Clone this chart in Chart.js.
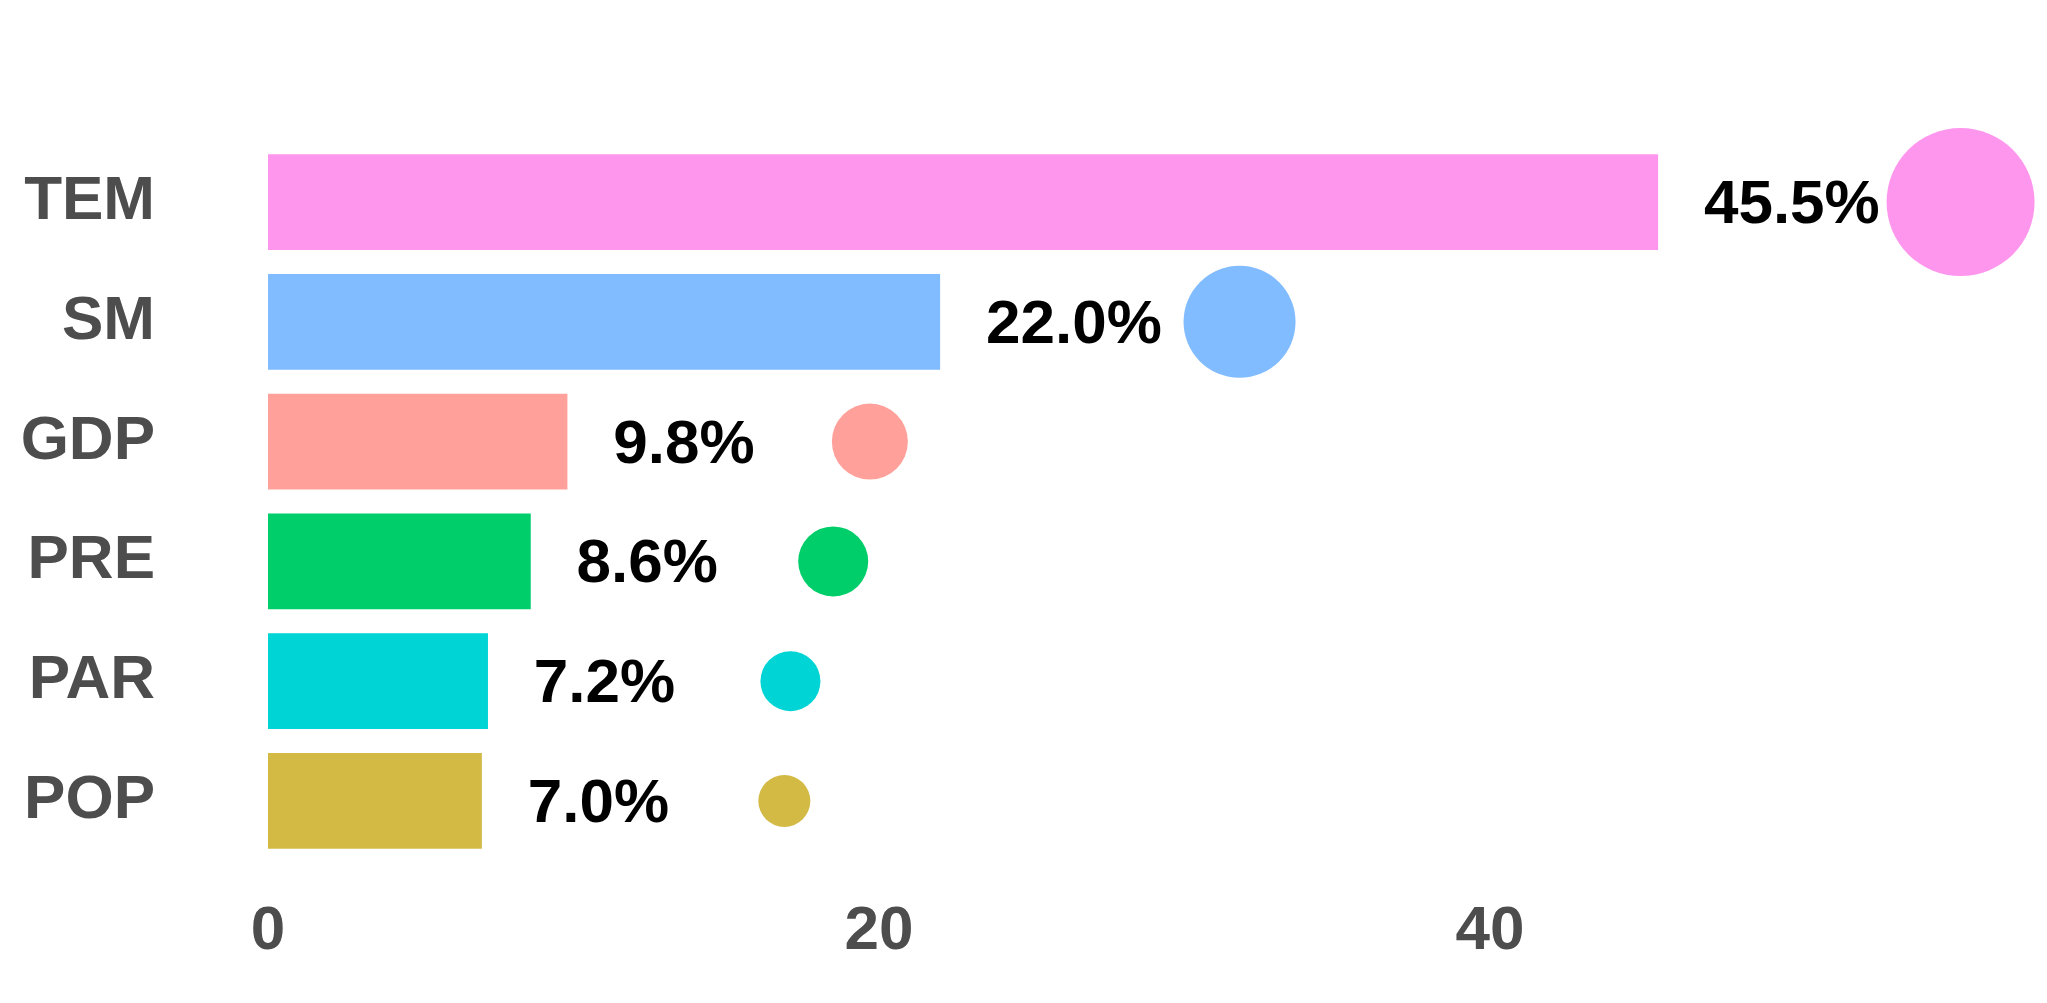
<!DOCTYPE html>
<html lang="en">
<head>
    <meta charset="UTF-8">
    <title>Share chart</title>
    <script src="https://cdn.jsdelivr.net/npm/chart.js"></script>
    <style>
        html, body { margin: 0; padding: 0; background: #fff; }
        #wrap { width: 2047px; height: 1003px; }
    </style>
</head>
<body>
    <div id="wrap"><canvas id="chart"></canvas></div>
    <script>
        const categories = ['TEM', 'SM', 'GDP', 'PRE', 'PAR', 'POP'];
        const values = [45.5, 22.0, 9.8, 8.6, 7.2, 7.0];
        const valueLabels = ['45.5%', '22.0%', '9.8%', '8.6%', '7.2%', '7.0%'];
        const circleX = [55.4, 31.8, 19.7, 18.5, 17.1, 16.9];
        const circleR = [74, 56, 38, 35, 30, 26];
        const colors = ['#FF96EE', '#80BCFF', '#FFA19A', '#00CE6A', '#00D4D5', '#D3BA44'];
        const xTicks = [0, 20, 40];

        const FONT = 'Liberation Sans, Arial, sans-serif';

        // percentage labels just right of each bar
        const valueLabelPlugin = {
            id: 'valueLabels',
            afterDatasetsDraw(chart) {
                const ctx = chart.ctx;
                const x = chart.scales.x, y = chart.scales.y;
                ctx.save();
                ctx.font = `bold 62px ${FONT}`;
                ctx.fillStyle = '#000';
                ctx.textAlign = 'left';
                ctx.textBaseline = 'middle';
                values.forEach((v, i) => {
                    ctx.fillText(valueLabels[i], x.getPixelForValue(v + 1.5), y.getPixelForValue(i) + 4);
                });
                ctx.restore();
            }
        };

        new Chart(document.getElementById('chart'), {
            type: 'bar',
            data: {
                labels: categories,
                datasets: [
                    {
                        type: 'bubble',
                        data: categories.map((c, i) => ({ x: circleX[i], y: c, r: circleR[i] })),
                        backgroundColor: colors,
                        borderWidth: 0,
                        order: 0
                    },
                    {
                        data: values,
                        backgroundColor: colors,
                        categoryPercentage: 1,
                        barPercentage: 0.8,
                        order: 1
                    }
                ]
            },
            options: {
                indexAxis: 'y',
                responsive: true,
                maintainAspectRatio: false,
                animation: false,
                layout: { autoPadding: false, padding: { top: 28, right: 7 } },
                plugins: { legend: { display: false }, tooltip: { enabled: false } },
                scales: {
                    x: {
                        type: 'linear',
                        min: 0,
                        max: 58,
                        grid: { display: false },
                        border: { display: false },
                        afterBuildTicks: s => { s.ticks = xTicks.map(v => ({ value: v })); },
                        afterFit: s => { s.height = 106; },
                        ticks: {
                            padding: 26,
                            color: '#4D4D4D',
                            font: { family: FONT, size: 62, weight: 'bold' }
                        }
                    },
                    y: {
                        type: 'category',
                        grid: { display: false },
                        border: { display: false },
                        afterFit: s => { s.width = 268; },
                        ticks: {
                            padding: 105,
                            color: '#4D4D4D',
                            font: { family: FONT, size: 62, weight: 'bold' }
                        }
                    }
                }
            },
            plugins: [valueLabelPlugin]
        });
    </script>
</body>
</html>
